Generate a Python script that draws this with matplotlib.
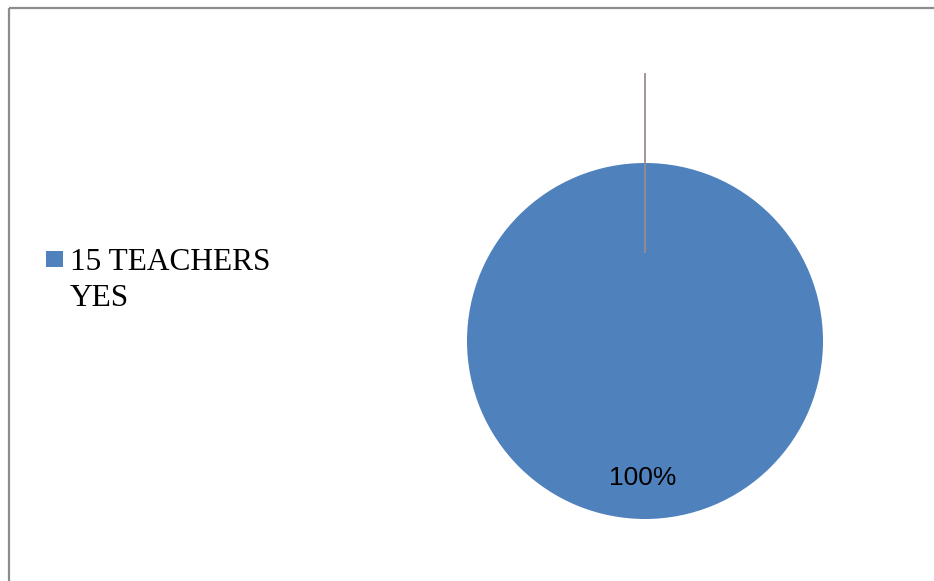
import matplotlib.pyplot as plt
from matplotlib.patches import Rectangle

# answer counts
labels = ['15 TEACHERS\nYES']
values = [15]
pct_labels = ['100%']
colors = ['#4f81bd']

fig = plt.figure(figsize=(9.34, 5.81), dpi=100)
ax = fig.add_axes([0, 0, 1, 1])

wedges, texts = ax.pie(values, labels=None, colors=colors, startangle=90,
                       center=(645, 341), radius=178, frame=True,
                       wedgeprops=dict(linewidth=0))
ax.set_xlim(0, 934)
ax.set_ylim(581, 0)
ax.set_aspect('auto')
ax.axis('off')

# chart border
ax.add_patch(Rectangle((9, 8), 940, 600, fill=False, edgecolor='#8c8c8c', lw=1.6))

# leader line
ax.plot([645, 645], [74, 252], color='#9a8a90', lw=1.3)

ax.text(643, 478, pct_labels[0], ha='center', va='center',
        fontsize=19, family='Liberation Sans', color='#000000')

# legend: square key next to the first line of the label
for i, lab in enumerate(labels):
    ax.add_patch(Rectangle((46, 251), 17, 16, facecolor=colors[i], edgecolor='none'))
    ax.text(70, 247.5, lab, ha='left', va='top', fontsize=22.6,
            family='Liberation Serif', linespacing=1.36)

fig.savefig('out.png', dpi=100)
